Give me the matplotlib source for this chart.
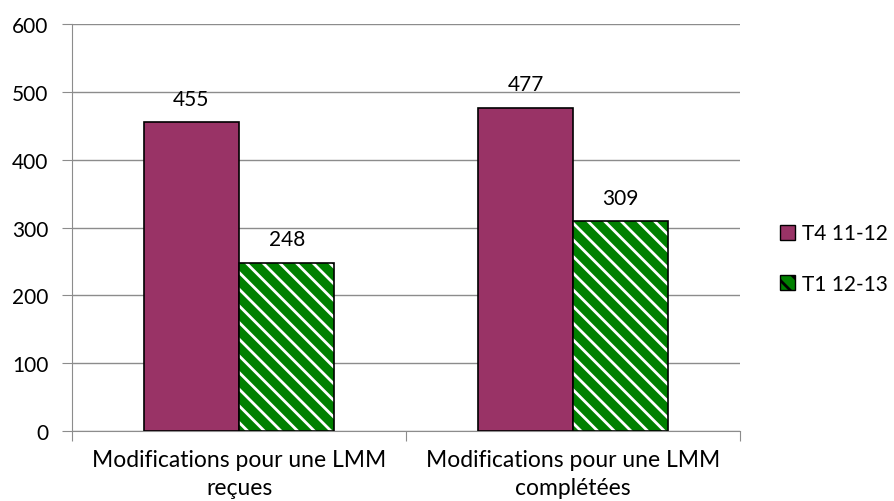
import matplotlib
matplotlib.use("Agg")
import matplotlib.pyplot as plt
import numpy as np
from matplotlib.patches import Patch

categories = ["Modifications pour une LMM\nreçues", "Modifications pour une LMM\ncomplétées"]
series_names = ["T4 11-12", "T1 12-13"]
t4 = [455, 477]
t1 = [248, 309]
yticks = [0, 100, 200, 300, 400, 500, 600]

plt.rcParams['font.family'] = ['Lato', 'DejaVu Sans']
plt.rcParams['hatch.linewidth'] = 2.0

FS = 15

fig = plt.figure(figsize=(8.94, 5.02), dpi=100)
ax = fig.add_axes([0.0805, 0.1394, 0.828 - 0.0805, 0.950 - 0.1394])

x = np.arange(len(categories))
w = 0.285
purple = "#993366"
green = "#008000"

ax.bar(x - w/2, t4, w, color=purple, edgecolor="black", linewidth=1.2, zorder=3)
ax.bar(x + w/2, t1, w, color=green, edgecolor="white", hatch="\\\\", linewidth=0, zorder=3)
ax.bar(x + w/2, t1, w, fill=False, edgecolor="black", linewidth=1.2, zorder=4)

for xi, v in zip(x - w/2, t4):
    ax.text(xi, v + 26, str(v), ha="center", va="baseline", fontsize=FS)
for xi, v in zip(x + w/2, t1):
    ax.text(xi, v + 26, str(v), ha="center", va="baseline", fontsize=FS)

ax.set_xlim(-0.5, 1.5)
ax.set_ylim(0, 600)
ax.set_yticks(yticks)
ax.set_yticklabels([str(t) for t in yticks], fontsize=FS)
ax.yaxis.grid(True, color="#8c8c8c", linewidth=1, zorder=0)
ax.set_axisbelow(True)

ax.set_xticks([-0.5, 0.5, 1.5])
ax.set_xticklabels([])
ax.tick_params(axis="x", length=7, color="#8c8c8c", direction="out")
ax.tick_params(axis="y", length=7, color="#8c8c8c", direction="out", pad=10)
for i, c in enumerate(categories):
    ax.text(i, -26, c, ha="center", va="top", fontsize=16.5, linespacing=1.45)

for s in ["top", "right"]:
    ax.spines[s].set_visible(False)
ax.spines["left"].set_color("#8c8c8c")
ax.spines["bottom"].set_color("#8c8c8c")

handles = [Patch(facecolor=purple, edgecolor="black"),
           Patch(facecolor=green, edgecolor="black", hatch="\\\\")]
leg = fig.legend(handles, series_names, loc="center left", bbox_to_anchor=(0.872, 0.483),
                 frameon=False, fontsize=FS, handlelength=0.75, handleheight=0.75,
                 handletextpad=0.35, labelspacing=1.45, borderpad=0, borderaxespad=0)

fig.savefig("out.png", dpi=100)
